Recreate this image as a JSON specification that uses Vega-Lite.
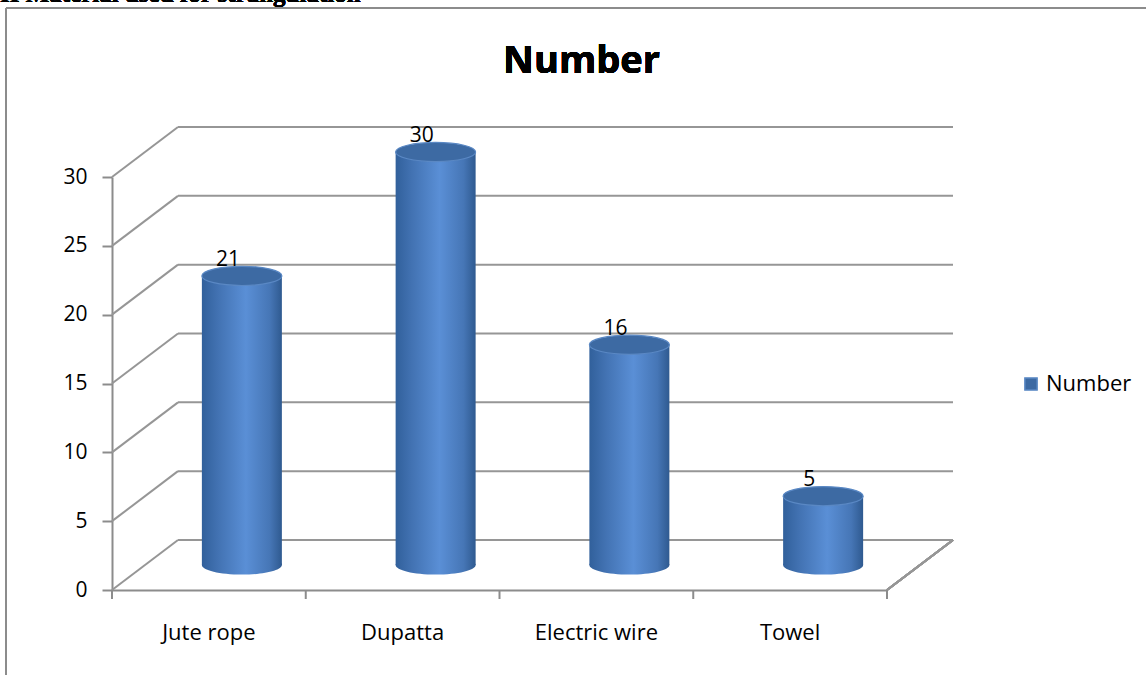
{
  "$schema": "https://vega.github.io/schema/vega-lite/v6.json",
  "width": 775,
  "height": 413,
  "autosize": {"type": "none"},
  "padding": {"left": 112, "top": 177, "right": 259, "bottom": 85},
  "background": "white",
  "config": {"view": {"stroke": null}, "font": "Open Sans"},
  "datasets": {
    "main": [
      {"cat": "Jute rope", "value": 21},
      {"cat": "Dupatta", "value": 30},
      {"cat": "Electric wire", "value": 16},
      {"cat": "Towel", "value": 5}
    ],
    "grid": [
      {"v": 0}, {"v": 5}, {"v": 10}, {"v": 15}, {"v": 20}, {"v": 25}, {"v": 30}
    ]
  },
  "layer": [
    {
      "data": {"name": "grid"},
      "layer": [
        {
          "mark": {"type": "rule", "color": "#969696", "strokeWidth": 2, "x2Offset": 66, "y2Offset": -50},
          "encoding": {
            "x": {"datum": "Jute rope", "type": "nominal", "bandPosition": 0},
            "x2": {"datum": "Jute rope", "bandPosition": 0},
            "y": {"field": "v", "type": "quantitative"},
            "y2": {"field": "v"}
          }
        },
        {
          "mark": {"type": "rule", "color": "#969696", "strokeWidth": 2, "xOffset": 66, "x2Offset": 66, "yOffset": -50},
          "encoding": {
            "x": {"datum": "Jute rope", "type": "nominal", "bandPosition": 0},
            "x2": {"datum": "Towel", "bandPosition": 1},
            "y": {"field": "v", "type": "quantitative"}
          }
        },
        {
          "mark": {"type": "rule", "color": "#969696", "strokeWidth": 2, "x2Offset": 66, "y2Offset": -50},
          "encoding": {
            "x": {"datum": "Towel", "type": "nominal", "bandPosition": 1},
            "x2": {"datum": "Towel", "bandPosition": 1},
            "y": {"datum": 0, "type": "quantitative"},
            "y2": {"datum": 0}
          }
        },
        {
          "mark": {"type": "rule", "color": "#8c8c8c", "strokeWidth": 2, "xOffset": -106, "yOffset": -169, "y2Offset": 95},
          "encoding": {
            "x": {"datum": "Jute rope", "type": "nominal", "bandPosition": 0},
            "y": {"datum": 30, "type": "quantitative"},
            "y2": {"datum": 0}
          }
        },
        {
          "mark": {"type": "rule", "color": "#8c8c8c", "strokeWidth": 2, "xOffset": -106, "x2Offset": 270, "yOffset": -169},
          "encoding": {
            "x": {"datum": "Jute rope", "type": "nominal", "bandPosition": 0},
            "x2": {"datum": "Towel", "bandPosition": 1},
            "y": {"datum": 30, "type": "quantitative"}
          }
        },
        {
          "mark": {"type": "text", "font": "Liberation Serif", "fontWeight": "bold", "fontSize": 25, "align": "left", "baseline": "alphabetic", "xOffset": -112, "yOffset": -175, "color": "#000000"},
          "encoding": {
            "x": {"datum": "Jute rope", "type": "nominal", "bandPosition": 0},
            "y": {"datum": 30, "type": "quantitative"},
            "text": {"value": "II Material used for strangulation"}
          }
        },
        {
          "mark": {"type": "text", "font": "Open Sans", "fontWeight": "bold", "fontSize": 38, "align": "center", "baseline": "alphabetic", "xOffset": 82, "yOffset": -104, "color": "#000000"},
          "encoding": {
            "x": {"datum": "Electric wire", "type": "nominal", "bandPosition": 0},
            "y": {"datum": 30, "type": "quantitative"},
            "text": {"value": "Number"}
          }
        }
      ]
    },
    {
      "data": {"name": "main"},
      "encoding": {
        "x": {
          "field": "cat",
          "type": "nominal",
          "sort": null,
          "scale": {"domain": ["Jute rope", "Dupatta", "Electric wire", "Towel"], "paddingInner": 0, "paddingOuter": 0},
          "axis": {
            "title": null,
            "bandPosition": 0.5,
            "labelAngle": 0,
            "labelAlign": "center",
            "labelFontSize": 22,
            "labelFont": "Open Sans",
            "labelColor": "#000000",
            "labelPadding": 32,
            "labelBaseline": "top",
            "ticks": false,
            "tickSize": 0,
            "domainColor": "#8c8c8c",
            "domainWidth": 2,
            "grid": false
          }
        }
      },
      "layer": [
        {
          "mark": {
            "type": "point", "filled": true, "opacity": 1, "size": 6400,
            "shape": "M-1,0A1,0.24,0,1,0,1,0A1,0.24,0,1,0,-1,0Z",
            "xOffset": 33, "yOffset": -25,
            "fill": {"gradient": "linear", "x1": 0, "y1": 0, "x2": 1, "y2": 0,
              "stops": [
                {"offset": 0, "color": "#31609b"},
                {"offset": 0.2, "color": "#4272b2"},
                {"offset": 0.55, "color": "#5a8fd6"},
                {"offset": 0.85, "color": "#4676b6"},
                {"offset": 1, "color": "#2f5a90"}
              ]},
            "strokeWidth": 0
          },
          "encoding": {
            "y": {"datum": 0, "type": "quantitative"}
          }
        },
        {
          "mark": {
            "type": "bar", "width": 80, "xOffset": 33, "yOffset": -25, "y2Offset": -25,
            "fill": {"gradient": "linear", "x1": 0, "y1": 0, "x2": 1, "y2": 0,
              "stops": [
                {"offset": 0, "color": "#31609b"},
                {"offset": 0.2, "color": "#4272b2"},
                {"offset": 0.55, "color": "#5a8fd6"},
                {"offset": 0.85, "color": "#4676b6"},
                {"offset": 1, "color": "#2f5a90"}
              ]}
          },
          "encoding": {
            "y": {
              "field": "value",
              "type": "quantitative",
              "scale": {"domain": [0, 30], "nice": false},
              "axis": {
                "orient": "left",
                "title": null,
                "values": [0, 5, 10, 15, 20, 25, 30],
                "grid": false,
                "labelFontSize": 21,
                "labelFont": "Open Sans",
                "labelColor": "#000000",
                "labelPadding": 15,
                "ticks": true,
                "tickSize": 10,
                "tickColor": "#8c8c8c",
                "tickWidth": 2,
                "domain": true,
                "domainColor": "#8c8c8c",
                "domainWidth": 2
              }
            },
            "y2": {"datum": 0}
          }
        },
        {
          "mark": {
            "type": "point", "filled": true, "opacity": 1, "size": 6400,
            "shape": "M-1,0A1,0.24,0,1,0,1,0A1,0.24,0,1,0,-1,0Z",
            "xOffset": 33, "yOffset": -25,
            "stroke": "#5a88c4", "strokeWidth": 1.2
          },
          "encoding": {
            "y": {"field": "value", "type": "quantitative"},
            "color": {
              "datum": "Number",
              "scale": {"range": ["#3d6aa3"]},
              "legend": {
                "title": null,
                "orient": "none",
                "legendX": 908,
                "legendY": 196,
                "symbolType": "square",
                "symbolSize": 150,
                "labelFontSize": 22,
                "labelFont": "Open Sans",
                "labelColor": "#000000",
                "labelOffset": 4,
                "encode": {"symbols": {"update": {"fill": {"value": "#4f81bd"}, "strokeWidth": {"value": 0}}}}
              }
            }
          }
        },
        {
          "mark": {"type": "text", "fontSize": 21, "font": "Open Sans", "color": "#000000", "xOffset": 19, "yOffset": -41, "baseline": "middle"},
          "encoding": {
            "y": {"field": "value", "type": "quantitative"},
            "text": {"field": "value", "type": "quantitative"}
          }
        },
        {
          "mark": {"type": "rule", "color": "#8c8c8c", "strokeWidth": 2, "y2Offset": 9},
          "encoding": {
            "x": {"field": "cat", "type": "nominal", "sort": null, "bandPosition": 0},
            "y": {"datum": 0, "type": "quantitative"},
            "y2": {"datum": 0}
          }
        },
        {
          "mark": {"type": "rule", "color": "#8c8c8c", "strokeWidth": 2, "y2Offset": 9},
          "encoding": {
            "x": {"datum": "Towel", "type": "nominal", "bandPosition": 1},
            "y": {"datum": 0, "type": "quantitative"},
            "y2": {"datum": 0}
          }
        }
      ]
    }
  ]
}
